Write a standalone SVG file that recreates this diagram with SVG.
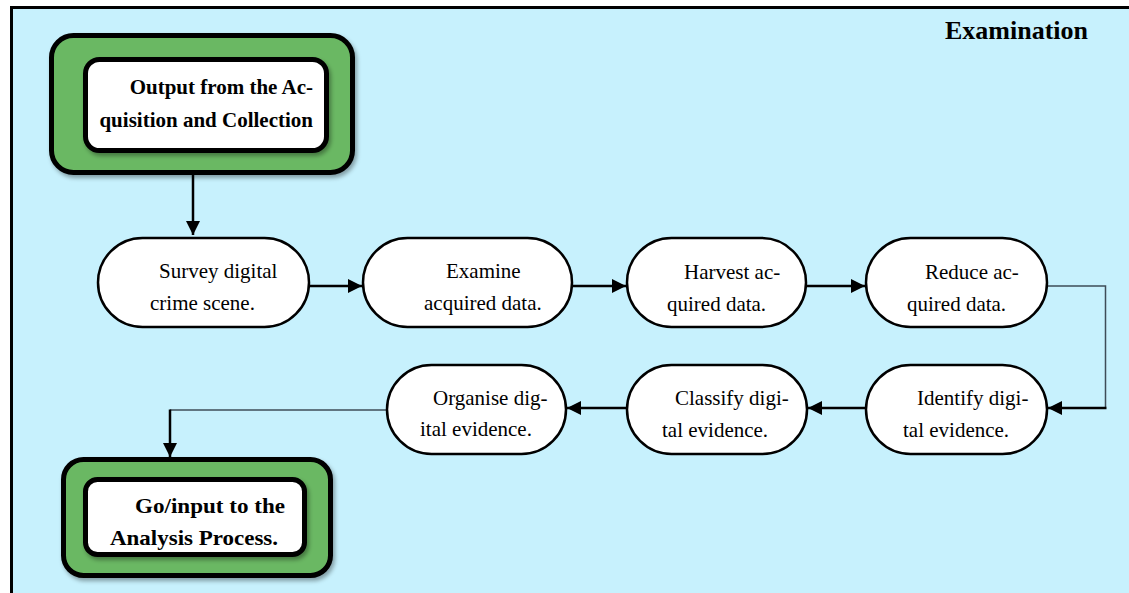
<svg xmlns="http://www.w3.org/2000/svg" width="1129" height="593" viewBox="0 0 1129 593">
  <defs>
    <style>
      .frame { fill: #C7F1FD; stroke: #000; stroke-width: 3; }
      .outer { fill: #6BB864; stroke: #000; stroke-width: 5; }
      .inner { fill: #fff; stroke: #000; stroke-width: 5; }
      .step { fill: #fff; stroke: #000; stroke-width: 2.5; }
      .bold { font-family: "Liberation Serif", "Times New Roman", serif; font-weight: bold; fill: #000; }
      .reg { font-family: "Liberation Serif", "Times New Roman", serif; font-size: 21px; fill: #000; }
      .conn { fill: none; stroke: #000; stroke-width: 2.5; }
      .thin { fill: none; stroke: #3E4C57; stroke-width: 1.5; }
    </style>
    <marker id="arrow" markerUnits="userSpaceOnUse" markerWidth="14" markerHeight="14" refX="14" refY="7" orient="auto">
      <path d="M0,0 L14,7 L0,14 z" fill="#000"/>
    </marker>
    <filter id="shadow" x="-10%" y="-10%" width="130%" height="140%">
      <feDropShadow dx="2" dy="3" stdDeviation="2" flood-color="#000" flood-opacity="0.35"/>
    </filter>
  </defs>

  <rect x="0" y="0" width="1129" height="593" fill="#fff"/>
  <g id="frame">
    <rect class="frame" x="11.5" y="7.5" width="1130" height="600"/>
    <text class="bold" x="945" y="39" font-size="26">Examination</text>
  </g>

  <g id="connectors">
    <path class="conn" d="M193,175 V235" marker-end="url(#arrow)"/>
    <path class="conn" d="M310,286 H362" marker-end="url(#arrow)"/>
    <path class="conn" d="M573,286 H626" marker-end="url(#arrow)"/>
    <path class="conn" d="M807,286 H865" marker-end="url(#arrow)"/>
    <path class="thin" d="M1048,286 H1105.5 V407"/>
    <path class="conn" d="M1106.5,408 H1048" marker-end="url(#arrow)"/>
    <path class="conn" d="M865,408 H808" marker-end="url(#arrow)"/>
    <path class="conn" d="M626,408 H567" marker-end="url(#arrow)"/>
    <path class="thin" d="M386,410 H170"/>
    <path class="conn" d="M170,409.5 V457" marker-end="url(#arrow)"/>
  </g>

  <g id="acquisition-output">
    <rect class="outer" x="51.5" y="35.5" width="301" height="137" rx="22" filter="url(#shadow)"/>
    <rect class="inner" x="85.5" y="59.5" width="241" height="91" rx="14" filter="url(#shadow)"/>
    <text class="bold" font-size="21" x="313" y="94" text-anchor="end">Output from the Ac-</text>
    <text class="bold" font-size="21" x="313" y="127" text-anchor="end">quisition and Collection</text>
  </g>

  <g id="survey">
    <rect class="step" x="98" y="238" width="211" height="89" rx="44.5"/>
    <text class="reg" x="159" y="278">Survey digital</text>
    <text class="reg" x="150" y="310">crime scene.</text>
  </g>

  <g id="examine">
    <rect class="step" x="363" y="238" width="209" height="89" rx="44.5"/>
    <text class="reg" x="446" y="278">Examine</text>
    <text class="reg" x="424" y="310">acquired data.</text>
  </g>

  <g id="harvest">
    <rect class="step" x="627" y="238" width="179" height="89" rx="44.5"/>
    <text class="reg" x="684" y="279">Harvest ac-</text>
    <text class="reg" x="667" y="311">quired data.</text>
  </g>

  <g id="reduce">
    <rect class="step" x="866" y="238" width="181" height="89" rx="44.5"/>
    <text class="reg" x="925" y="279">Reduce ac-</text>
    <text class="reg" x="907" y="311">quired data.</text>
  </g>

  <g id="identify">
    <rect class="step" x="866" y="365" width="181" height="89" rx="44.5"/>
    <text class="reg" x="917" y="405">Identify digi-</text>
    <text class="reg" x="903" y="437">tal evidence.</text>
  </g>

  <g id="classify">
    <rect class="step" x="627" y="365" width="180" height="89" rx="44.5"/>
    <text class="reg" x="675" y="405">Classify digi-</text>
    <text class="reg" x="662" y="437">tal evidence.</text>
  </g>

  <g id="organise">
    <rect class="step" x="387" y="365" width="179" height="89" rx="44.5"/>
    <text class="reg" x="433" y="405">Organise dig-</text>
    <text class="reg" x="420" y="436">ital evidence.</text>
  </g>

  <g id="analysis-input">
    <rect class="outer" x="63.5" y="459.5" width="267" height="116" rx="20" filter="url(#shadow)"/>
    <rect class="inner" x="85.5" y="479.5" width="219" height="75" rx="12" filter="url(#shadow)"/>
    <text class="bold" font-size="22" x="135" y="513" textLength="150" lengthAdjust="spacingAndGlyphs">Go/input to the</text>
    <text class="bold" font-size="22" x="110" y="545" textLength="168" lengthAdjust="spacingAndGlyphs">Analysis Process.</text>
  </g>
</svg>
